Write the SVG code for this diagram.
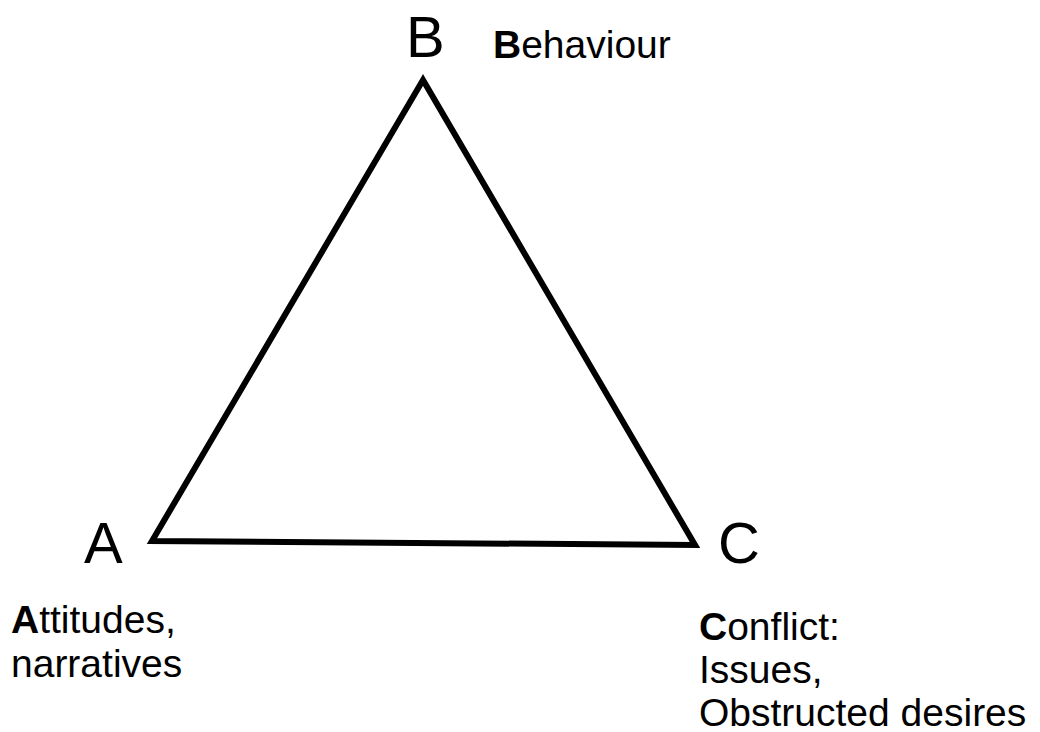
<svg xmlns="http://www.w3.org/2000/svg" width="1040" height="732" viewBox="0 0 1040 732">
  <style>
    .vertex { font-family: "Liberation Sans", Arial, sans-serif; font-size: 58px; fill: #000; }
    .label { font-family: "Liberation Sans", Arial, sans-serif; font-size: 39px; fill: #000; }
    .label .key { font-weight: bold; }
    .edge { fill: none; stroke: #000; stroke-width: 6; stroke-linejoin: miter; }
  </style>
  <rect width="1040" height="732" fill="#fff"/>
  <g id="connectors">
    <polygon class="edge" points="423,80 152,541 695,545"/>
  </g>
  <g id="node-B">
    <text class="vertex" x="406" y="57">B</text>
    <text class="label" x="493" y="58"><tspan class="key">B</tspan>ehaviour</text>
  </g>
  <g id="node-A">
    <text class="vertex" x="84" y="563">A</text>
    <text class="label" x="11" y="633"><tspan class="key">A</tspan>ttitudes,</text>
    <text class="label" x="11" y="677">narratives</text>
  </g>
  <g id="node-C">
    <text class="vertex" x="718" y="563">C</text>
    <text class="label" x="699" y="640"><tspan class="key">C</tspan>onflict:</text>
    <text class="label" x="699" y="683">Issues,</text>
    <text class="label" x="699" y="726">Obstructed desires</text>
  </g>
</svg>
